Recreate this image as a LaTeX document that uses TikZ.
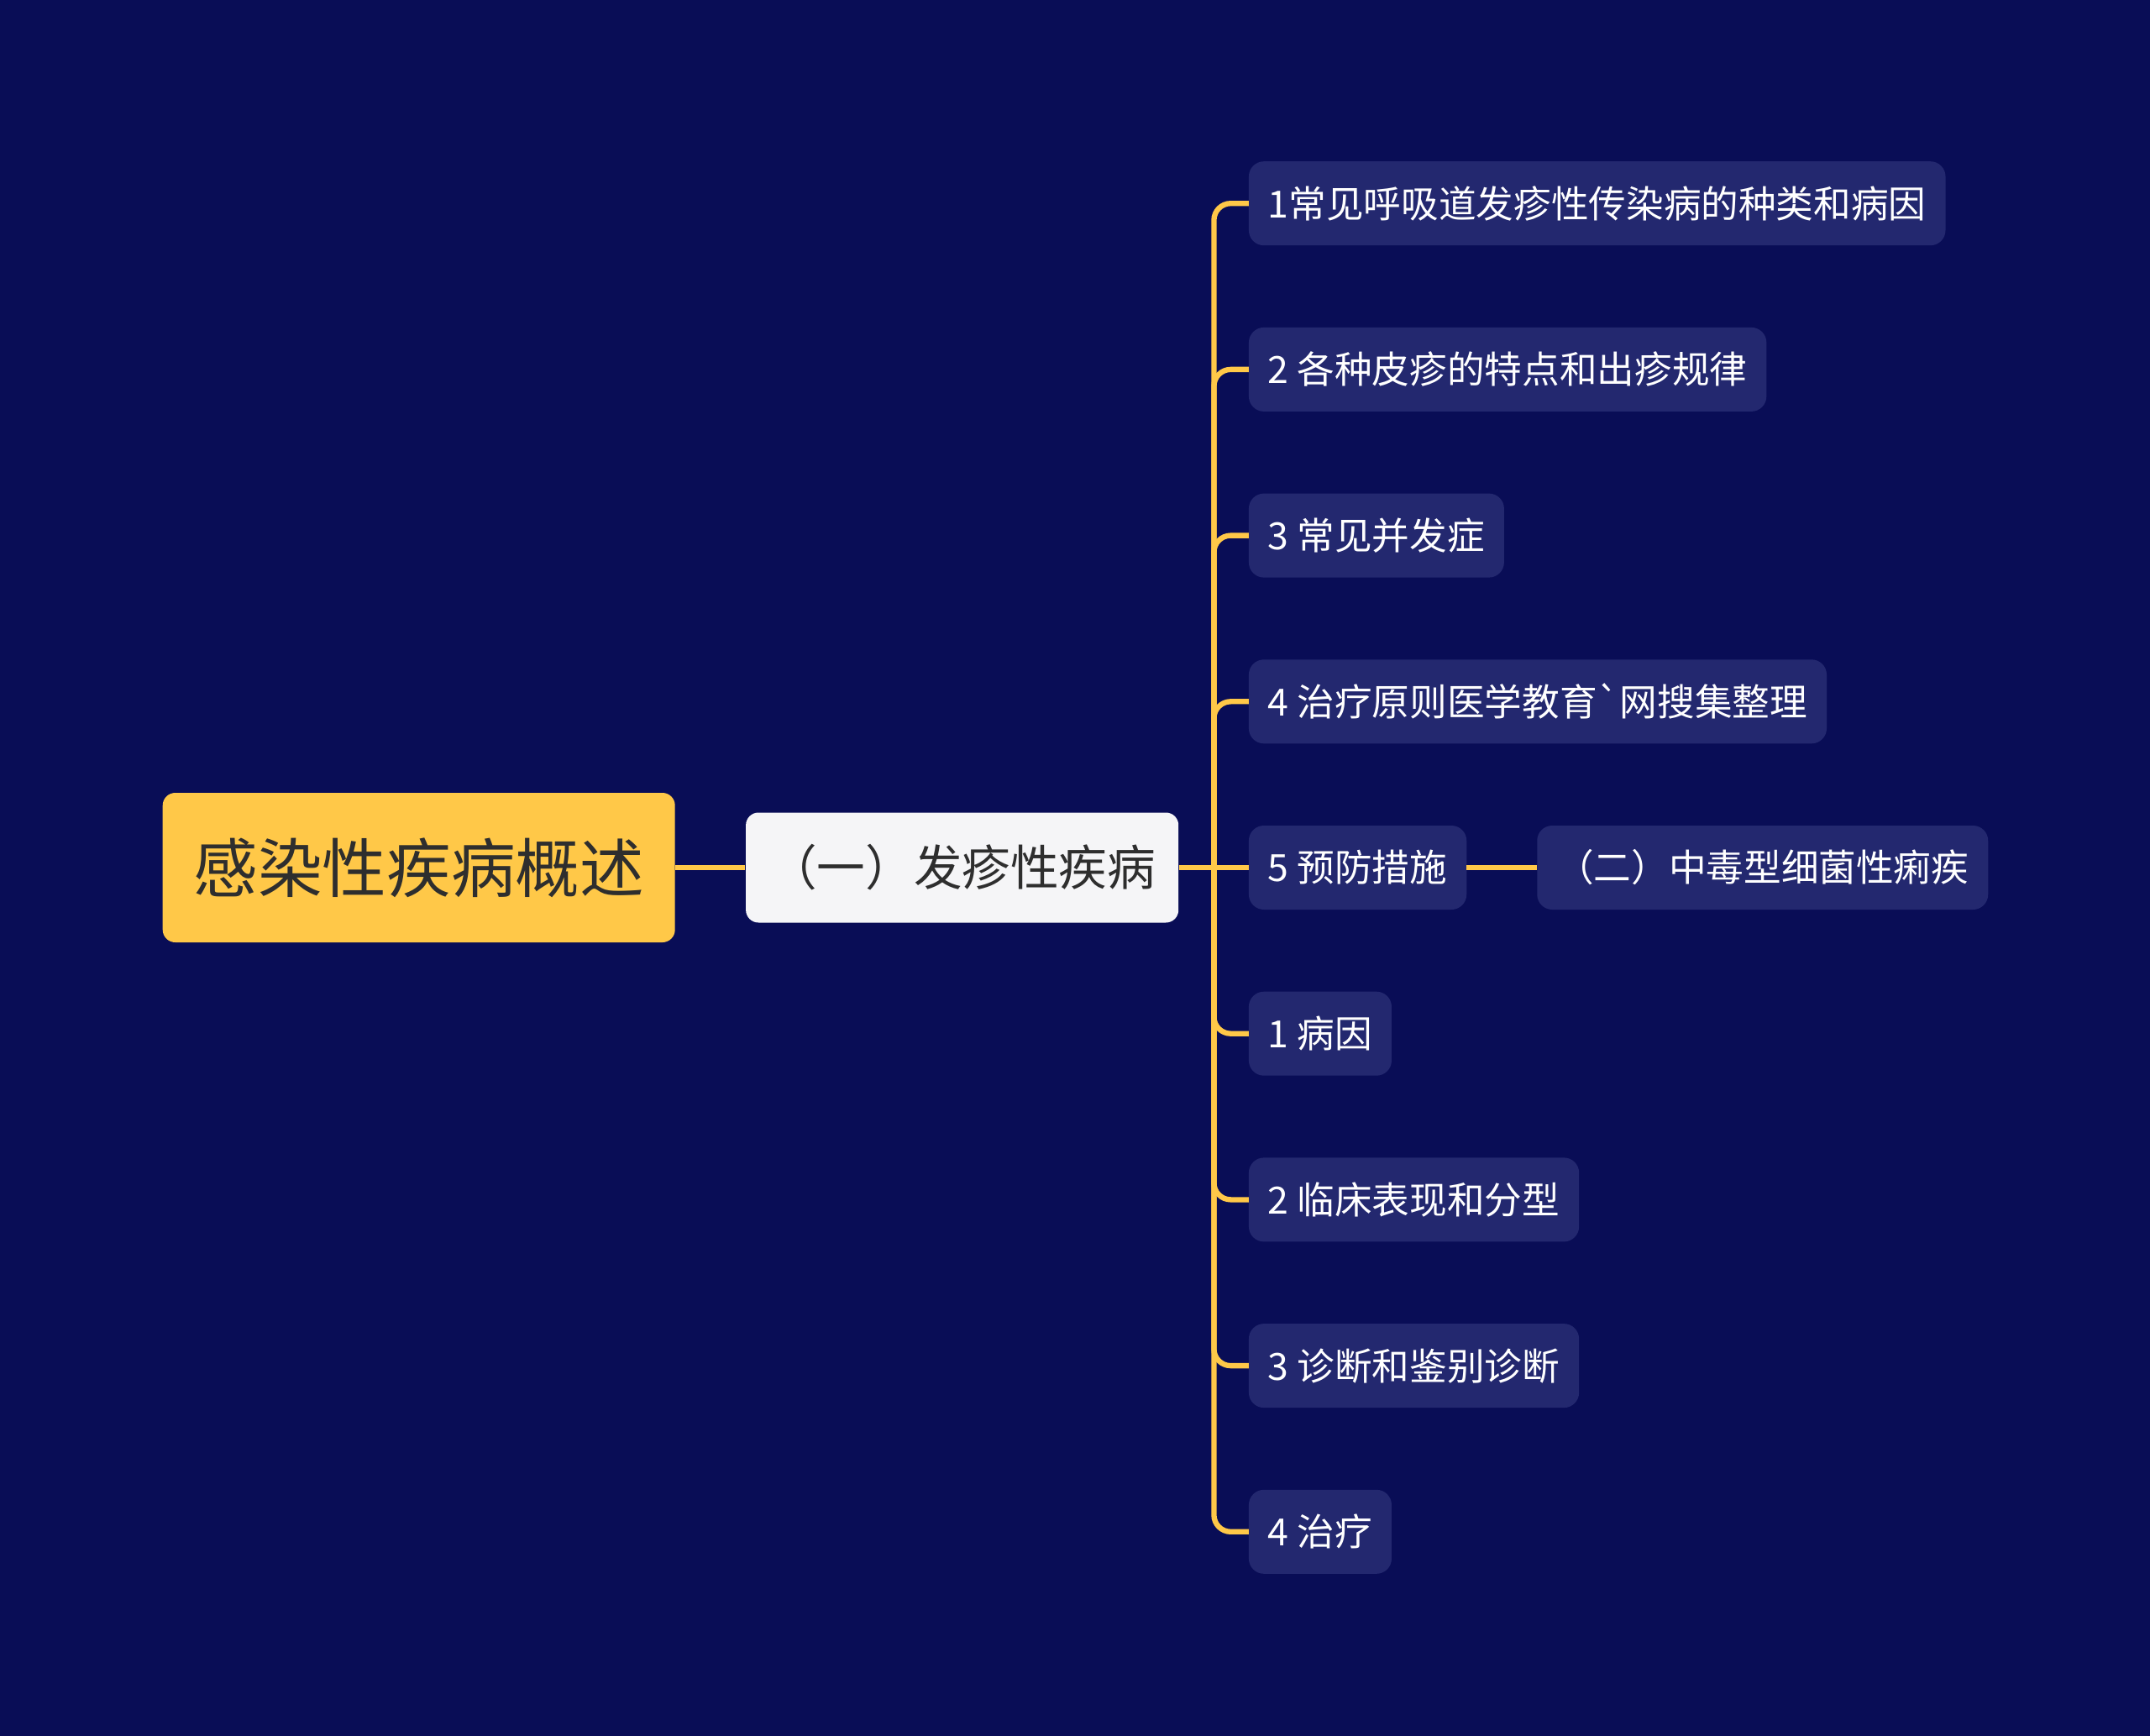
\documentclass[tikz,border=0pt]{standalone}
\usepackage{fontspec}
\setmainfont{Noto Sans CJK SC}[Ligatures=TeXOff]
\usetikzlibrary{positioning,calc}
\definecolor{bgblue}{HTML}{090D56}
\definecolor{leafblue}{HTML}{23286F}
\definecolor{rootyellow}{HTML}{FFC848}
\definecolor{subwhite}{HTML}{F5F5F7}
\definecolor{darktext}{HTML}{2E2E2E}
\tikzset{
    rootbox/.style={fill=rootyellow, rounded corners=0.15cm, text=darktext,
        font=\fontsize{21.8pt}{26pt}\selectfont, minimum width=6.1cm, minimum height=1.78cm},
    subbox/.style={fill=subwhite, rounded corners=0.15cm, text=darktext,
        font=\fontsize{16.4pt}{20pt}\selectfont, inner xsep=0.27cm, minimum height=1.31cm},
    leafbox/.style={fill=leafblue, rounded corners=0.18cm, text=white, outer sep=0pt,
        font=\fontsize{12.7pt}{15pt}\selectfont, inner xsep=0.23cm, minimum height=1cm},
    branch/.style={draw=rootyellow, line width=1.8pt, rounded corners=0.2cm}
}
\begin{document}
\begin{tikzpicture}[node distance=0.83cm]
\useasboundingbox (0,0) rectangle (25.6,-20.67);
\fill[bgblue] (0,0) rectangle (25.6,-20.67);
% main nodes
\node[rootbox, anchor=west] (root) at (1.93,-10.33) {感染性疾病概述};
\node[subbox, right=of root] (rash) {（一）发疹性疾病};
\node[leafbox, right=of rash] (c5) {5 预防措施};
\node[leafbox, right=0.84cm of c5] (dysentery) {（二）中毒型细菌性痢疾};
% leaves above
\node[leafbox, above=0.977cm of c5.north west, anchor=south west] (c4) {4 治疗原则医学教育{\char"60}网搜集整理};
\node[leafbox, above=0.977cm of c4.north west, anchor=south west] (c3) {3 常见并发症};
\node[leafbox, above=0.977cm of c3.north west, anchor=south west] (c2) {2 各种皮疹的特点和出疹规律};
\node[leafbox, above=0.977cm of c2.north west, anchor=south west] (c1) {1常见呼吸道发疹性传染病的种类和病因};
% leaves below
\node[leafbox, below=0.977cm of c5.south west, anchor=north west] (c6) {1 病因};
\node[leafbox, below=0.977cm of c6.south west, anchor=north west] (c7) {2 临床表现和分型};
\node[leafbox, below=0.977cm of c7.south west, anchor=north west] (c8) {3 诊断和鉴别诊断};
\node[leafbox, below=0.977cm of c8.south west, anchor=north west] (c9) {4 治疗};
\coordinate (hub) at ($(rash.east)!0.5!(c5.west)$);
% connectors
\draw[branch] (root) -- (rash);
\draw[branch] (rash.east) -- (c5.west);
\draw[branch] (c5) -- (dysentery);
\foreach \leaf in {c1,c2,c3,c4,c6,c7,c8,c9}
    \draw[branch] (hub) |- (\leaf.west);
\end{tikzpicture}
\end{document}
